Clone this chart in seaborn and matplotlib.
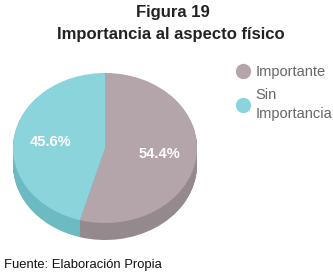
import matplotlib
matplotlib.use("Agg")
import matplotlib.pyplot as plt
from matplotlib.lines import Line2D
import seaborn as sns

# data ------------------------------------------
categories = ["Importante", "Sin\nImportancia"]
values = [54.4, 45.6]
top_colors = ["#b4a5aa", "#8cd4dc"]
side_colors = ["#948a8d", "#6cbac2"]

sns.set_theme(style="white")
plt.rcParams["font.family"] = ["Liberation Sans", "DejaVu Sans"]

W, H = 333, 274
fig = plt.figure(figsize=(W / 100, H / 100), dpi=100)

# pie axes (pixel placement of the ellipse + depth)
cx, rx, ry, depth = 105, 92, 75, 17
top = 73
ax = fig.add_axes([(cx - rx) / W, 1 - (top + 2 * ry + depth) / H,
                   2 * rx / W, (2 * ry + depth) / H])
d = depth / ry

# side of the cylinder: stack of darker pies
steps = 24
for k in range(steps, 0, -1):
    ax.pie(values, colors=side_colors, startangle=90, counterclock=False,
           center=(0, -d * k / steps), radius=1,
           wedgeprops=dict(linewidth=0))

# top face
wedges, texts, autotexts = ax.pie(values, colors=top_colors, startangle=90,
                                  counterclock=False, radius=1,
                                  autopct="%.1f%%", pctdistance=0.6,
                                  wedgeprops=dict(linewidth=0),
                                  textprops=dict(color="white", fontsize=10.5,
                                                 fontweight="bold"))
ax.set_aspect("auto")
ax.set_xlim(-1, 1)
ax.set_ylim(-1 - d, 1)
ax.axis("off")

# titles
fig.text(173 / W, 1 - 12 / H, "Figura 19", ha="center", va="center",
         fontsize=12, fontweight="bold", color="#222222")
fig.text(171 / W, 1 - 35 / H, "Importancia al aspecto físico", ha="center",
         va="center", fontsize=12, fontweight="bold", color="#222222")

# legend
handles = [Line2D([], [], marker="o", linestyle="", markersize=10,
                  markerfacecolor=c, markeredgecolor=c) for c in top_colors]
leg = fig.legend(handles, categories, loc="upper left",
                 bbox_to_anchor=(228 / W, 1 - 59 / H), frameon=False,
                 fontsize=10.5, handletextpad=0.3, labelspacing=0.65,
                 borderaxespad=0, handlelength=1.2)
for t in leg.get_texts():
    t.set_color("#666666")
    t.set_linespacing(1.45)

# source
fig.text(4 / W, 1 - 265 / H, "Fuente: Elaboración Propia", ha="left",
         va="center", fontsize=9.4, color="#111111")

fig.savefig("out.png", dpi=100)
